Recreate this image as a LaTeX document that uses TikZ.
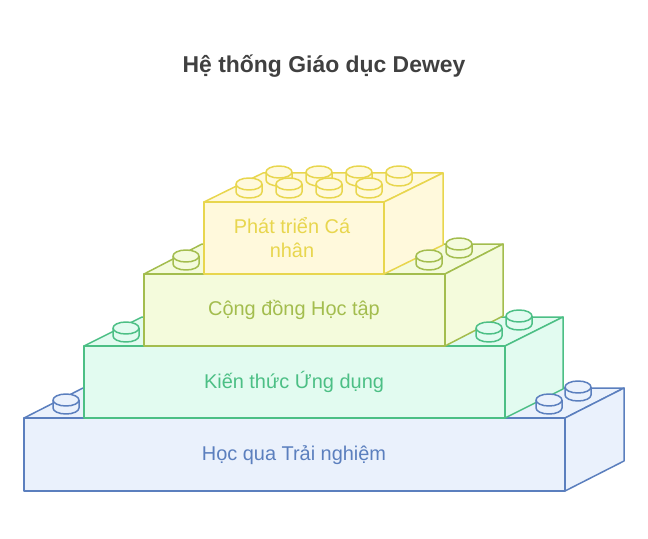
\documentclass[tikz,border=0pt]{standalone}
\usepackage{fontspec}
\setmainfont{Liberation Sans}
\begin{document}
\begin{tikzpicture}[x=1bp,y=-1bp,line width=1.5bp,line join=round,
 lbl/.style={font=\fontsize{20}{24}\selectfont,align=center}]
\useasboundingbox (0,0) rectangle (648,539);
\newcommand\mystud[4]{%
 \fill[#4] (#1-13,#2) -- (#1-13,#2-8) -- (#1+13,#2-8) -- (#1+13,#2) arc[start angle=0,end angle=180,x radius=13,y radius=-6] -- cycle;
 \draw[#3] (#1-13,#2-8) -- (#1-13,#2) arc[start angle=180,end angle=0,x radius=13,y radius=6] -- (#1+13,#2-8);
 \draw[#3,fill=#4] (#1,#2-8) ellipse[x radius=13,y radius=6];}
\newcommand\mybrick[8]{% x1 x2 ytop ybot dx dy stroke fill
 \draw[#7,fill=#8] (#1,#3) -- (#1+#5,#3+#6) -- (#2+#5,#3+#6) -- (#2,#3) -- cycle;
 \draw[#7,fill=#8] (#2,#3) -- (#2+#5,#3+#6) -- (#2+#5,#4+#6) -- (#2,#4) -- cycle;
 \draw[#7,fill=#8] (#1,#3) rectangle (#2,#4);}
\definecolor{bS}{HTML}{5B7FBE}\definecolor{bF}{HTML}{EAF1FC}
\definecolor{gS}{HTML}{4CBF85}\definecolor{gF}{HTML}{E2FBF0}
\definecolor{lS}{HTML}{A3BD4E}\definecolor{lF}{HTML}{F4FBDC}
\definecolor{yS}{HTML}{E8D64E}\definecolor{yF}{HTML}{FFF9DC}
\node[font=\bfseries\fontsize{23}{27}\selectfont,text=black!75] (title) at (324,66) {Hệ thống Giáo dục Dewey};
\mybrick{24}{565}{418}{491}{59}{-30}{bS}{bF}
\mybrick{84}{505}{346}{418}{58}{-29}{gS}{gF}
\mybrick{144}{445}{274}{346}{58}{-30}{lS}{lF}
\mybrick{204}{384}{202}{274}{59}{-29}{yS}{yF}
\mystud{66}{408}{bS}{bF}\mystud{549}{408}{bS}{bF}\mystud{578}{395}{bS}{bF}
\mystud{126}{336}{gS}{gF}\mystud{489}{336}{gS}{gF}\mystud{519}{324}{gS}{gF}
\mystud{186}{264}{lS}{lF}\mystud{429}{264}{lS}{lF}\mystud{459}{252}{lS}{lF}
\mystud{279}{180}{yS}{yF}\mystud{319}{180}{yS}{yF}\mystud{359}{180}{yS}{yF}\mystud{399}{180}{yS}{yF}
\mystud{249}{192}{yS}{yF}\mystud{289}{192}{yS}{yF}\mystud{329}{192}{yS}{yF}\mystud{369}{192}{yS}{yF}
\node[lbl,text=bS] (b) at (294,455) {Học qua Trải nghiệm};
\node[lbl,text=gS] (g) at (294,382) {Kiến thức Ứng dụng};
\node[lbl,text=lS] (l) at (294,310) {Cộng đồng Học tập};
\node[lbl,text=yS] (y) at (292,238) {Phát triển Cá\\nhân};
\end{tikzpicture}
\end{document}
